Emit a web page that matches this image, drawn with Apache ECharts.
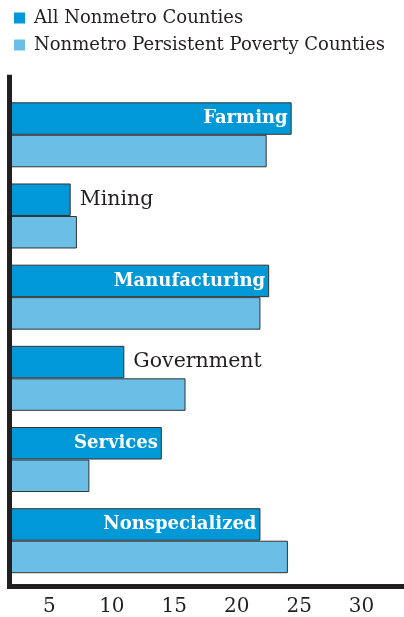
<!DOCTYPE html>
<html>
<head>
<meta charset="utf-8">
<script src="https://cdn.jsdelivr.net/npm/echarts@6/dist/echarts.min.js"></script>
<style>
  html, body { margin: 0; padding: 0; background: #ffffff; }
  #chart { width: 404px; height: 617px; }
</style>
</head>
<body>
<div id="chart"></div>
<script>
// Share of counties by economic type (percent)
const categories = ['Farming', 'Mining', 'Manufacturing', 'Government', 'Services', 'Nonspecialized'];
const allNonmetro = [24.4, 6.7, 22.6, 11.0, 14.0, 21.9];
const persistentPoverty = [22.4, 7.2, 21.9, 15.9, 8.2, 24.1];
const tickValues = [5, 10, 15, 20, 25, 30];
const seriesNames = ['All Nonmetro Counties', 'Nonmetro Persistent Poverty Counties'];

const FONT = 'DejaVu Serif';
const INK = '#231f20';
const DARK_BLUE = '#0098d6';
const LIGHT_BLUE = '#6bbfe7';

const X_MIN = 1.8, X_MAX = 33.4;
const GRID_LEFT = 9.5, GRID_RIGHT = 0;
const CHART_W = 404;
const pxPerUnit = (CHART_W - GRID_LEFT - GRID_RIGHT) / (X_MAX - X_MIN);

const INSIDE_FONT = 'bold 18px "' + FONT + '"';
const measureCtx = document.createElement('canvas').getContext('2d');
function textWidth(text, font) {
  measureCtx.font = font;
  return measureCtx.measureText(text).width;
}

// Category name sits inside the dark bar when it fits, otherwise just past its end
const darkData = allNonmetro.map(function (v, i) {
  const barLen = (v - X_MIN) * pxPerUnit;
  const fits = textWidth(categories[i], INSIDE_FONT) + 10 < barLen;
  return {
    value: v,
    label: fits ? {
      show: true, position: 'insideRight', distance: 4,
      color: '#ffffff', fontFamily: FONT, fontWeight: 'bold', fontSize: 18,
      formatter: categories[i]
    } : {
      show: true, position: 'right', distance: 9,
      color: INK, fontFamily: FONT, fontWeight: 'normal', fontSize: 20.5,
      formatter: categories[i]
    }
  };
});

const chart = echarts.init(document.getElementById('chart'), null, { renderer: 'canvas' });

chart.setOption({
  animation: false,
  backgroundColor: '#ffffff',
  legend: {
    orient: 'vertical',
    left: 14,
    top: 9,
    padding: 0,
    itemWidth: 11,
    itemHeight: 11,
    itemGap: 9,
    icon: 'rect',
    itemStyle: { borderWidth: 0 },
    textStyle: { fontFamily: FONT, fontSize: 18, color: INK, padding: [0, 0, 0, 4] },
    data: seriesNames
  },
  grid: [
    // frame: the two heavy axis lines and the tick labels
    { left: GRID_LEFT, right: GRID_RIGHT, top: 77.2, bottom: 31 },
    // bars
    { left: GRID_LEFT, right: GRID_RIGHT, top: 94.2, bottom: 35.7 }
  ],
  xAxis: [
    {
      gridIndex: 0, type: 'value', min: X_MIN, max: X_MAX, z: 10,
      axisLine: { show: true, onZero: false, lineStyle: { color: INK, width: 5, cap: 'square' } },
      axisTick: { show: false },
      splitLine: { show: false },
      axisLabel: {
        customValues: tickValues, margin: 11,
        fontFamily: FONT, fontSize: 20, color: INK
      }
    },
    {
      gridIndex: 1, type: 'value', min: X_MIN, max: X_MAX, show: false
    }
  ],
  yAxis: [
    {
      gridIndex: 0, type: 'value', min: 0, max: 1, z: 10,
      axisLine: { show: true, onZero: false, lineStyle: { color: INK, width: 5, cap: 'square' } },
      axisTick: { show: false },
      splitLine: { show: false },
      axisLabel: { show: false }
    },
    {
      gridIndex: 1, type: 'category', inverse: true, data: categories, show: false
    }
  ],
  series: [
    {
      name: seriesNames[0], type: 'bar', xAxisIndex: 1, yAxisIndex: 1,
      barWidth: 32.5, barGap: '0%',
      itemStyle: { color: DARK_BLUE, borderColor: '#333333', borderWidth: 1 },
      data: darkData
    },
    {
      name: seriesNames[1], type: 'bar', xAxisIndex: 1, yAxisIndex: 1,
      barWidth: 32.5, barGap: '0%',
      itemStyle: { color: LIGHT_BLUE, borderColor: '#333333', borderWidth: 1 },
      data: persistentPoverty
    }
  ]
});
</script>
</body>
</html>
